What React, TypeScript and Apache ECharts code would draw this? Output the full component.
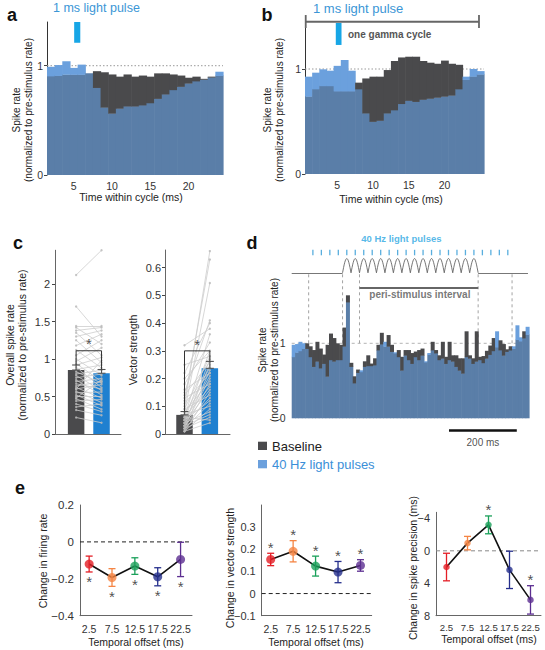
import React, { useEffect, useRef } from 'react';
import * as echarts from 'echarts';

const FONT = '"Liberation Sans", Arial, Helvetica, sans-serif';
const DARK = '#4a4a4c';
const LIGHT = '#6ba0dd';
const OVERLAP = '#5a7ea8';
const PULSE = '#17a6e6';
const TEXT_BLUE = '#3b96d6';
const CBLUE = '#1f80d0';

// ---------- panel a ----------
const aBinCenters = [2, 3, 4, 5, 6, 7, 8, 9, 10, 11, 12, 13, 14, 15, 16, 17, 18, 19, 20, 21, 22, 23, 24];
const aBaseline = [0.906, 0.91, 0.92, 0.92, 0.92, 0.93, 0.95, 0.94, 0.92, 0.9, 0.92, 0.9, 0.91, 0.9, 0.93, 0.93, 0.92, 0.91, 0.89, 0.9, 0.88, 0.9, 0.91];
const aLight = [0.99, 1.006, 1.04, 0.98, 1.01, 0.93, 0.8, 0.62, 0.565, 0.61, 0.63, 0.63, 0.64, 0.66, 0.7, 0.74, 0.78, 0.81, 0.84, 0.86, 0.875, 0.895, 0.945];
const aTicks = [5, 10, 15, 20];
const aPulseWindow = [5.05, 5.85];

// ---------- panel b ----------
const bBinCenters = [1, 2, 3, 4, 5, 6, 7, 8, 9, 10, 11, 12, 13, 14, 15, 16, 17, 18, 19, 20, 21, 22, 23, 24, 25];
const bBaseline = [0.74, 0.81, 0.84, 0.84, 0.79, 0.79, 0.79, 0.87, 0.91, 0.927, 0.927, 0.99, 1.076, 1.11, 1.117, 1.117, 1.076, 1.06, 1.05, 1.08, 1.05, 1.04, 0.9, 0.93, 0.95];
const bLight = [0.927, 0.965, 0.997, 0.984, 1.03, 1.086, 0.984, 0.81, 0.58, 0.5, 0.51, 0.58, 0.61, 0.67, 0.7, 0.69, 0.71, 0.72, 0.73, 0.74, 0.75, 0.81, 0.927, 1.0, 0.98];
const bTicks = [5, 10, 15, 20];
const bPulseWindow = [4.8, 5.6];
const bGammaCycle = [0.6, 24.8];

// ---------- panel c ----------
const cMeansRate = [0.853, 0.81];
const cErrRate = [0.067, 0.05];
const cMeansVS = [0.069, 0.237];
const cErrVS = [0.012, 0.025];
const cRateTicks = [0, 0.5, 1, 1.5, 2];
const cVSTicks = [0, 0.1, 0.2, 0.3, 0.4, 0.5, 0.6];
const cRatePairs = [
  [2.12, 2.45], [1.7, 1.3], [1.44, 1.44], [1.42, 1.2], [1.38, 1.42], [1.35, 1.05], [1.3, 1.38], [1.25, 0.95],
  [1.18, 1.33], [1.12, 0.88], [1.05, 1.25], [1.0, 0.78], [0.97, 1.15], [0.94, 0.7], [0.92, 1.02], [0.89, 0.62],
  [0.86, 0.92], [0.83, 0.68], [0.8, 0.85], [0.78, 0.58], [0.75, 0.8], [0.72, 0.52], [0.7, 0.74], [0.67, 0.6],
  [0.64, 0.7], [0.62, 0.48], [0.6, 0.66], [0.57, 0.42], [0.55, 0.56], [0.52, 0.38], [0.5, 0.5], [0.47, 0.33],
  [0.44, 0.46], [0.4, 0.3], [0.36, 0.4], [0.32, 0.25], [0.22, 0.15], [0.6, 0.98], [0.48, 0.72],
];
const cVSPairs = [
  [0.32, 0.38], [0.1, 0.66], [0.12, 0.63], [0.08, 0.545], [0.15, 0.41], [0.22, 0.4], [0.06, 0.36], [0.18, 0.33],
  [0.05, 0.3], [0.09, 0.28], [0.03, 0.27], [0.14, 0.26], [0.04, 0.25], [0.07, 0.24], [0.02, 0.23], [0.11, 0.22],
  [0.05, 0.21], [0.03, 0.2], [0.08, 0.19], [0.02, 0.18], [0.06, 0.17], [0.04, 0.16], [0.01, 0.15], [0.09, 0.14],
  [0.03, 0.13], [0.05, 0.12], [0.02, 0.11], [0.07, 0.1], [0.01, 0.09], [0.04, 0.08], [0.03, 0.07], [0.02, 0.06],
  [0.06, 0.05], [0.01, 0.04], [0.13, 0.18], [0.2, 0.3], [0.16, 0.22], [0.25, 0.28],
];

// ---------- panel d ----------
const dBinCenters = [
  5, 15, 25, 35, 45, 55, 65, 75, 85, 95, 105, 115, 125, 135, 145, 155, 165, 175, 185, 195,
  205, 215, 225, 235, 245, 255, 265, 275, 285, 295, 305, 315, 325, 335, 345, 355, 365, 375, 385, 395,
  405, 415, 425, 435, 445, 455, 465, 475, 485, 495, 505, 515, 525, 535, 545, 555, 565, 575, 585, 595,
  605, 615, 625, 635, 645, 655, 665, 675, 685, 695,
];
const dBaseline = [
  0.82, 0.88, 0.9, 0.93, 1.0, 0.96, 0.91, 1.02, 0.93, 0.85, 0.98, 1.13, 1.07, 1.0, 0.98, 1.21, 1.64, 0.74, 0.56, 0.65,
  0.62, 0.76, 0.84, 0.73, 0.8, 0.98, 1.14, 0.96, 1.11, 0.98, 0.87, 0.91, 0.82, 0.91, 0.91, 0.87, 0.89, 0.91, 0.93, 0.75,
  0.85, 1.02, 0.91, 0.84, 1.02, 0.82, 1.02, 0.84, 0.84, 0.8, 0.8, 1.16, 0.84, 0.8, 1.16, 0.82, 0.83, 0.9, 0.97, 1.07,
  0.95, 1.04, 0.99, 0.92, 0.96, 0.93, 1.05, 1.03, 1.16, 1.12,
];
const dLight = [
  0.98, 0.99, 1.02, 1.0, 0.93, 0.82, 0.69, 0.76, 0.67, 0.73, 0.56, 0.78, 0.76, 0.78, 0.78, 0.96, 1.55, 0.69, 0.47, 0.61,
  0.64, 0.69, 0.7, 0.7, 0.71, 0.91, 0.99, 1.02, 0.96, 0.89, 0.88, 0.82, 0.64, 0.84, 0.78, 0.73, 0.82, 0.78, 0.84, 0.76,
  0.87, 0.91, 0.87, 0.78, 0.8, 0.73, 0.78, 0.76, 0.69, 0.64, 0.6, 0.82, 0.8, 0.73, 0.76, 0.78, 0.74, 0.8, 0.85, 0.9,
  1.16, 0.91, 0.84, 0.89, 0.91, 0.96, 1.24, 1.08, 1.07, 1.22,
];
const dPulseTimes = [
  62.5, 87.5, 112.5, 137.5, 162.5, 187.5, 212.5, 237.5, 262.5, 287.5, 312.5, 337.5,
  362.5, 387.5, 412.5, 437.5, 462.5, 487.5, 512.5, 537.5, 562.5, 587.5, 612.5, 637.5,
];
const dStimCycleStarts = [150, 175, 200, 225, 250, 275, 300, 325, 350, 375, 400, 425, 450, 475, 500, 525];
const dStimWindow = [150, 550];
const dMarkerTimes = [50, 150, 200, 550, 650];
const dPeriStimulus = [200, 550];
const dScaleBar = [464, 664];

// ---------- panel e ----------
const eOffsets = [2.5, 7.5, 12.5, 17.5, 22.5];
const eColors = ['#e41e26', '#f58544', '#1aa05a', '#262f8c', '#5c2e91'];
const eRateMean = [-0.12, -0.193, -0.131, -0.189, -0.095];
const eRateErr = [0.043, 0.048, 0.045, 0.049, 0.093];
const eRateSig = [true, true, true, true, true];
const eVSMean = [0.154, 0.191, 0.124, 0.097, 0.127];
const eVSErr = [0.028, 0.048, 0.045, 0.048, 0.026];
const eVSSig = [true, true, true, true, true];
const ePrecMean = [2.0, -0.95, -3.2, 2.35, 6.05];
const ePrecErr = [1.7, 0.83, 1.1, 2.3, 1.75];
const ePrecSig = [false, false, true, false, true];

const minus = (v: number) => String(v).replace('-', '\u2212');

function hist(idx: number, centers: number[], base: number[], light: number[], binW: number) {
  return {
    type: 'custom', xAxisIndex: idx, yAxisIndex: idx, z: 2, silent: true,
    data: centers.map((c, i) => [c, base[i], light[i]]),
    renderItem: (_p: any, api: any) => {
      const c = api.value(0), b = api.value(1), l = api.value(2);
      const lo = Math.min(b, l), hi = Math.max(b, l);
      const pA = api.coord([c - binW / 2, 0]);
      const pB = api.coord([c + binW / 2, lo]);
      const pC = api.coord([c + binW / 2, hi]);
      const w = pB[0] - pA[0] + 0.6;
      const h2 = pB[1] - pC[1];
      return {
        type: 'group', children: [
          { type: 'rect', shape: { x: pA[0], y: pB[1], width: w, height: pA[1] - pB[1] }, style: { fill: OVERLAP } },
          { type: 'rect', shape: { x: pA[0], y: pC[1], width: w, height: h2 > 0 ? h2 + 0.4 : 0 }, style: { fill: b > l ? DARK : LIGHT } },
        ],
      };
    },
  };
}

function errSeries(idx: number, items: any[], cap: number, width: number, z = 4) {
  return {
    type: 'custom', xAxisIndex: idx, yAxisIndex: idx, z, silent: true, clip: false,
    data: items,
    renderItem: (_p: any, api: any) => {
      const x = api.value(0);
      const a = api.coord([x, api.value(1)]);
      const b = api.coord([x, api.value(2)]);
      const color = api.visual('color');
      const st = { stroke: color, lineWidth: width };
      return {
        type: 'group', children: [
          { type: 'line', shape: { x1: a[0], y1: a[1], x2: b[0], y2: b[1] }, style: st },
          { type: 'line', shape: { x1: a[0] - cap, y1: a[1], x2: a[0] + cap, y2: a[1] }, style: st },
          { type: 'line', shape: { x1: b[0] - cap, y1: b[1], x2: b[0] + cap, y2: b[1] }, style: st },
        ],
      };
    },
  };
}

function textSeries(idx: number, pos: number[], text: string, opts: any = {}) {
  return {
    type: 'scatter', xAxisIndex: idx, yAxisIndex: idx, silent: true, z: 6,
    symbolSize: 1, itemStyle: { color: 'rgba(0,0,0,0)' },
    data: [pos],
    label: {
      show: true, formatter: text, position: opts.position || 'inside', distance: opts.distance ?? 0,
      offset: opts.offset || [0, 0],
      color: opts.color || '#222', fontSize: opts.size || 10.5, fontWeight: opts.weight || 'normal', fontFamily: FONT,
    },
  };
}

function starSeries(idx: number, xs: number[], ys: number[], sig: boolean[], position: string, distance: number) {
  return {
    type: 'scatter', xAxisIndex: idx, yAxisIndex: idx, silent: true, z: 6,
    symbolSize: 1, itemStyle: { color: 'rgba(0,0,0,0)' },
    data: xs.map((x, i) => [x, ys[i]]).filter((_d, i) => sig[i]),
    label: { show: true, formatter: '*', position, distance, color: '#222', fontSize: 15, fontFamily: FONT },
  };
}

function lineSeg(idx: number, pts: number[][], color: string, width: number, type: any = 'solid', z = 3) {
  return {
    type: 'line', xAxisIndex: idx, yAxisIndex: idx, data: pts, showSymbol: false, symbol: 'none', silent: true, z,
    lineStyle: { color, width, type }, animation: false,
  };
}

function eSeries(idx: number, xmin: number, xmax: number, means: number[], errs: number[], sig: boolean[],
  starBelow: boolean, dot: number, zeroColor: string, inverse = false) {
  const starY = eOffsets.map((_x, i) => {
    if (inverse) return means[i] - errs[i];
    return starBelow ? means[i] - errs[i] : means[i] + errs[i];
  });
  return [
    lineSeg(idx, [[xmin, 0], [xmax, 0]], zeroColor, 1, [4, 3], 1),
    lineSeg(idx, eOffsets.map((x, i) => [x, means[i]]), '#111', 1.6, 'solid', 3),
    errSeries(idx, eOffsets.map((x, i) => ({ value: [x, means[i] - errs[i], means[i] + errs[i]], itemStyle: { color: eColors[i] } })), 3.5, 1.3),
    {
      type: 'scatter', xAxisIndex: idx, yAxisIndex: idx, silent: true, z: 5, symbolSize: dot,
      data: eOffsets.map((x, i) => ({ value: [x, means[i]], itemStyle: { color: eColors[i] } })),
    },
    starSeries(idx, eOffsets, starY, sig, starBelow ? 'bottom' : 'top', starBelow ? 2 : -2),
  ];
}

function cSeries(idx: number, means: number[], errs: number[], pairs: number[][], xs: number[], bracketY: number, starY: number) {
  return [
    {
      type: 'bar', xAxisIndex: idx, yAxisIndex: idx, barWidth: 16.5, silent: true, z: 2,
      data: [
        { value: [xs[0], means[0]], itemStyle: { color: DARK } },
        { value: [xs[1], means[1]], itemStyle: { color: CBLUE } },
      ],
    },
    {
      type: 'lines', coordinateSystem: 'cartesian2d', xAxisIndex: idx, yAxisIndex: idx, silent: true, z: 3,
      data: pairs.map(([b, l]) => ({ coords: [[xs[0], b], [xs[1], l]] })),
      lineStyle: { color: '#cdcdcd', width: 0.8, opacity: 1 },
    },
    {
      type: 'scatter', xAxisIndex: idx, yAxisIndex: idx, silent: true, z: 3, symbolSize: 2.4,
      itemStyle: { color: '#b8b8b8' },
      data: pairs.flatMap(([b, l]) => [[xs[0], b], [xs[1], l]]),
    },
    errSeries(idx, [0, 1].map((i) => ({ value: [xs[i], means[i], means[i] + errs[i]], itemStyle: { color: '#555' } })), 4, 1.1),
    lineSeg(idx, [[xs[0], means[0] + errs[0]], [xs[0], bracketY], [xs[1], bracketY], [xs[1], means[1] + errs[1]]], '#333', 1, 'solid', 5),
    textSeries(idx, [(xs[0] + xs[1]) / 2, starY], '*', { size: 15, offset: [0, 3] }),
  ];
}

function buildOption(): any {
  const grids = [
    { left: 47, top: 22, width: 176, height: 153 },
    { left: 305, top: 21.75, width: 179, height: 152.25 },
    { left: 55, top: 250.25, width: 66, height: 183.75 },
    { left: 165, top: 250, width: 65, height: 184 },
    { left: 291.7, top: 230.8, width: 237.3, height: 213.75 },
    { left: 80, top: 505, width: 112, height: 110.7 },
    { left: 261.7, top: 505, width: 110, height: 110.7 },
    { left: 436, top: 512.3, width: 105, height: 103.4 },
  ].map((g) => ({ ...g, containLabel: false, outerBoundsMode: 'none', show: false }));

  const lab = (vals: number[] | null, extra: any = {}) => vals
    ? { show: true, customValues: vals, fontSize: 10.5, color: '#333', fontFamily: FONT, formatter: (v: number) => minus(v), ...extra }
    : { show: false };
  const tick = (vals: number[] | null, len = 3) => vals ? { show: true, customValues: vals, length: len, lineStyle: { color: '#444' } } : { show: false };
  const axLine = (show: boolean, color = '#444') => ({ show, onZero: false, lineStyle: { color, width: 1 } });

  const xAxis = [
    { gridIndex: 0, type: 'value', min: 1.5, max: 24.5, axisLine: axLine(false), axisTick: tick(null), axisLabel: lab(aTicks, { margin: 5 }), splitLine: { show: false } },
    { gridIndex: 1, type: 'value', min: 0.5, max: 25.5, axisLine: axLine(false), axisTick: tick(null), axisLabel: lab(bTicks, { margin: 5 }), splitLine: { show: false } },
    { gridIndex: 2, type: 'value', min: 0, max: 1, axisLine: axLine(true, '#666'), axisTick: tick(null), axisLabel: lab(null), splitLine: { show: false } },
    { gridIndex: 3, type: 'value', min: 0, max: 1, axisLine: axLine(true, '#666'), axisTick: tick(null), axisLabel: lab(null), splitLine: { show: false } },
    { gridIndex: 4, type: 'value', min: 0, max: 700, axisLine: axLine(false), axisTick: tick(null), axisLabel: lab(null), splitLine: { show: false } },
    { gridIndex: 5, type: 'value', min: 0.5, max: 25, axisLine: axLine(true, '#666'), axisTick: tick(null), axisLabel: lab(eOffsets, { margin: 8 }), splitLine: { show: false } },
    { gridIndex: 6, type: 'value', min: 0.5, max: 25, axisLine: axLine(true, '#666'), axisTick: tick(null), axisLabel: lab(eOffsets, { margin: 8 }), splitLine: { show: false } },
    { gridIndex: 7, type: 'value', min: 0, max: 25, axisLine: axLine(true, '#666'), axisTick: tick(null), axisLabel: lab(eOffsets, { margin: 7, fontSize: 9.6 }), splitLine: { show: false } },
  ];
  const yAxis = [
    { gridIndex: 0, type: 'value', min: 0, max: 1.4, axisLine: axLine(true, '#333'), axisTick: tick([0, 1]), axisLabel: lab([0, 1], { margin: 4 }), splitLine: { show: false } },
    { gridIndex: 1, type: 'value', min: 0, max: 1.45, axisLine: axLine(true, '#333'), axisTick: tick([0, 1]), axisLabel: lab([0, 1], { margin: 4 }), splitLine: { show: false } },
    { gridIndex: 2, type: 'value', min: 0, max: 2.45, axisLine: axLine(true, '#666'), axisTick: tick(cRateTicks), axisLabel: lab(cRateTicks, { fontSize: 11, margin: 5 }), splitLine: { show: false } },
    { gridIndex: 3, type: 'value', min: 0, max: 0.664, axisLine: axLine(true, '#666'), axisTick: tick(cVSTicks), axisLabel: lab(cVSTicks, { fontSize: 11, margin: 4 }), splitLine: { show: false } },
    { gridIndex: 4, type: 'value', min: -0.35, max: 2.5, axisLine: axLine(false), axisTick: tick(null), axisLabel: lab([0, 1], { margin: 6 }), splitLine: { show: false } },
    { gridIndex: 5, type: 'value', min: -0.4, max: 0.2, axisLine: axLine(true, '#666'), axisTick: tick(null), axisLabel: lab([-0.4, -0.2, 0, 0.2], { fontSize: 11.5, margin: 6 }), splitLine: { show: false } },
    { gridIndex: 6, type: 'value', min: -0.1, max: 0.4, axisLine: axLine(true, '#666'), axisTick: tick(null), axisLabel: lab([-0.1, 0, 0.1, 0.2, 0.3], { fontSize: 11, margin: 6 }), splitLine: { show: false } },
    { gridIndex: 7, type: 'value', min: -4.75, max: 8, inverse: true, axisLine: axLine(true, '#666'), axisTick: tick(null), axisLabel: lab([-4, 0, 4, 8], { fontSize: 11, margin: 6 }), splitLine: { show: false } },
  ];

  const series: any[] = [];
  // a
  series.push(lineSeg(0, [[1.5, 1], [24.5, 1]], '#999', 1, [1.5, 2], 1));
  series.push(hist(0, aBinCenters, aBaseline, aLight, 1));
  series.push({
    type: 'custom', xAxisIndex: 0, yAxisIndex: 0, z: 5, silent: true, clip: false,
    data: [[aPulseWindow[0], aPulseWindow[1], 1.21, 1.4]],
    renderItem: (_p: any, api: any) => {
      const p1 = api.coord([api.value(0), api.value(3)]);
      const p2 = api.coord([api.value(1), api.value(2)]);
      return { type: 'rect', shape: { x: p1[0], y: p1[1], width: p2[0] - p1[0], height: p2[1] - p1[1] }, style: { fill: PULSE } };
    },
  });
  // b
  series.push(lineSeg(1, [[0.5, 1], [25.5, 1]], '#999', 1, [1.5, 2], 1));
  series.push(hist(1, bBinCenters, bBaseline, bLight, 1));
  series.push({
    type: 'custom', xAxisIndex: 1, yAxisIndex: 1, z: 5, silent: true, clip: false,
    data: [[bPulseWindow[0], bPulseWindow[1], 1.229, 1.438]],
    renderItem: (_p: any, api: any) => {
      const p1 = api.coord([api.value(0), api.value(3)]);
      const p2 = api.coord([api.value(1), api.value(2)]);
      return { type: 'rect', shape: { x: p1[0], y: p1[1], width: p2[0] - p1[0], height: p2[1] - p1[1] }, style: { fill: PULSE } };
    },
  });
  series.push({
    type: 'custom', xAxisIndex: 1, yAxisIndex: 1, z: 5, silent: true, clip: false,
    data: [[bGammaCycle[0], bGammaCycle[1]]],
    renderItem: (_p: any, api: any) => {
      const l = api.coord([api.value(0), 1.45]);
      const r = api.coord([api.value(1), 1.45]);
      const top = api.coord([0, 1.514])[1];
      const bot = api.coord([0, 1.39])[1];
      const st = { stroke: '#666', lineWidth: 1.8 };
      return {
        type: 'group', children: [
          { type: 'line', shape: { x1: l[0], y1: l[1], x2: r[0], y2: r[1] }, style: st },
          { type: 'line', shape: { x1: l[0], y1: top, x2: l[0], y2: bot }, style: st },
          { type: 'line', shape: { x1: r[0], y1: top, x2: r[0], y2: bot }, style: st },
        ],
      };
    },
  });
  // c
  series.push(...cSeries(2, cMeansRate, cErrRate, cRatePairs, [0.32, 0.705], 1.11, 1.25));
  series.push(...cSeries(3, cMeansVS, cErrVS, cVSPairs, [0.3, 0.69], 0.3, 0.335));
  // d
  series.push(lineSeg(4, [[0, 1], [700, 1]], '#aaa', 0.9, [3, 3], 1));
  series.push({
    type: 'custom', xAxisIndex: 4, yAxisIndex: 4, z: 1, silent: true, clip: false,
    data: dMarkerTimes.map((t) => [t]),
    renderItem: (_p: any, api: any) => {
      const a = api.coord([api.value(0), 1]);
      const b = api.coord([api.value(0), 1.94]);
      return { type: 'line', shape: { x1: a[0], y1: a[1], x2: b[0], y2: b[1] }, style: { stroke: '#999', lineWidth: 0.9, lineDash: [3, 3] } };
    },
  });
  series.push(hist(4, dBinCenters, dBaseline, dLight, 10));
  series.push({
    type: 'lines', coordinateSystem: 'cartesian2d', xAxisIndex: 4, yAxisIndex: 4, silent: true, z: 3,
    data: [{ coords: [[0, 1.94], [dStimWindow[0], 1.94]] }, { coords: [[dStimWindow[1], 1.94], [697, 1.94]] }],
    lineStyle: { color: '#777', width: 1, opacity: 1 },
  });
  series.push({
    type: 'custom', xAxisIndex: 4, yAxisIndex: 4, z: 3, silent: true, clip: false,
    data: dStimCycleStarts.map((t) => [t]),
    renderItem: (_p: any, api: any) => {
      const s = api.value(0);
      const pts: number[][] = [];
      for (let k = 0; k <= 16; k++) {
        pts.push(api.coord([s + (25 * k) / 16, 1.94 + 0.19 * Math.sin((Math.PI * k) / 16)]));
      }
      return { type: 'polyline', shape: { points: pts }, style: { stroke: '#666', lineWidth: 0.9, fill: 'none' } };
    },
  });
  series.push({
    type: 'scatter', xAxisIndex: 4, yAxisIndex: 4, silent: true, z: 4, symbol: 'rect', symbolSize: [1.3, 5.5],
    itemStyle: { color: '#2f9ad6' },
    data: dPulseTimes.map((t) => [t, 2.21]),
  });
  series.push(textSeries(4, [323.5, 2.4], '40 Hz light pulses', { color: '#2aa6e2', weight: 'bold', size: 9.5 }));
  series.push({
    type: 'lines', coordinateSystem: 'cartesian2d', xAxisIndex: 4, yAxisIndex: 4, silent: true, z: 3,
    data: [{ coords: [[dPeriStimulus[0], 1.74], [dPeriStimulus[1], 1.74]] }],
    lineStyle: { color: '#666', width: 2, opacity: 1 },
  });
  series.push(textSeries(4, [378, 1.645], 'peri-stimulus interval', { color: '#555', weight: 'bold', size: 10 }));
  series.push({
    type: 'lines', coordinateSystem: 'cartesian2d', xAxisIndex: 4, yAxisIndex: 4, silent: true, z: 3,
    data: [{ coords: [[dScaleBar[0], -0.165], [dScaleBar[1], -0.165]] }],
    lineStyle: { color: '#111', width: 2.5, opacity: 1 },
  });
  series.push(textSeries(4, [(dScaleBar[0] + dScaleBar[1]) / 2, -0.32], '200 ms', { size: 10 }));
  // e
  series.push(...eSeries(5, 0.5, 25, eRateMean, eRateErr, eRateSig, true, 9, '#222'));
  series.push(...eSeries(6, 0.5, 25, eVSMean, eVSErr, eVSSig, false, 9, '#222'));
  series.push(...eSeries(7, 0, 25, ePrecMean, ePrecErr, ePrecSig, false, 6.5, '#888', true));

  const t = (text: string, x: number, y: number, o: any = {}) => ({
    type: 'text', x, y, rotation: o.rot || 0, silent: true, z: 10,
    style: {
      text, fill: o.color || '#222',
      font: `${o.weight || 'normal'} ${o.size || 10.5}px ${FONT}`,
      textAlign: o.align || 'center', align: o.align || 'center',
      textVerticalAlign: 'middle', verticalAlign: 'middle',
      lineHeight: o.lh || undefined,
    },
  });
  const R = Math.PI / 2;
  const graphic = [
    t('a', 12, 15, { weight: 'bold', size: 18, color: '#111' }),
    t('b', 267, 15, { weight: 'bold', size: 18, color: '#111' }),
    t('c', 18, 243, { weight: 'bold', size: 18, color: '#111' }),
    t('d', 252, 243, { weight: 'bold', size: 18, color: '#111' }),
    t('e', 20, 488, { weight: 'bold', size: 18, color: '#111' }),
    t('1 ms light pulse', 53, 8, { align: 'left', size: 12.5, color: TEXT_BLUE }),
    t('1 ms light pulse', 313, 8.5, { align: 'left', size: 13, color: TEXT_BLUE }),
    t('one gamma cycle', 348, 34, { align: 'left', size: 10, weight: 'bold', color: '#555' }),
    t('Spike rate\n(normalized to pre-stimulus rate)', 22.5, 110, { rot: R, size: 10, lh: 12 }),
    t('Spike rate\n(normalized to pre-stimulus rate)', 273, 110, { rot: R, size: 10, lh: 12 }),
    t('Spike rate\n(normalized to pre-stimulus rate)', 268, 350, { rot: R, size: 10, lh: 12 }),
    t('Time within cycle (ms)', 131, 197, { size: 10.5 }),
    t('Time within cycle (ms)', 391, 199, { size: 10.5 }),
    t('Overall spike rate\n(normalized to pre-stimulus rate)', 16, 345, { rot: R, size: 10.5, lh: 12 }),
    t('Vector strength', 133, 350, { rot: R, size: 10.5 }),
    { type: 'rect', shape: { x: 258, y: 441.7, width: 9, height: 8.3 }, style: { fill: DARK }, silent: true },
    { type: 'rect', shape: { x: 258, y: 460, width: 9, height: 8.3 }, style: { fill: LIGHT }, silent: true },
    t('Baseline', 272, 446, { align: 'left', size: 13, color: '#222' }),
    t('40 Hz light pulses', 272, 464, { align: 'left', size: 13, color: '#3b8fd8' }),
    t('Change in firing rate', 43, 561, { rot: R, size: 10.5 }),
    t('Change in vector strength', 230, 568, { rot: R, size: 10.5 }),
    t('Change in spike precision (ms)', 413, 568, { rot: R, size: 10.5 }),
    t('Temporal offset (ms)', 136, 642, { size: 10.5 }),
    t('Temporal offset (ms)', 316, 642, { size: 10.5 }),
    t('Temporal offset (ms)', 489, 638.5, { size: 10.5 }),
  ];

  return {
    animation: false,
    backgroundColor: '#ffffff',
    textStyle: { fontFamily: FONT },
    grid: grids,
    xAxis,
    yAxis,
    series,
    graphic,
  };
}

export default function App() {
  const ref = useRef<HTMLDivElement>(null);
  useEffect(() => {
    if (!ref.current) return;
    const chart = echarts.init(ref.current, null, { renderer: 'svg' });
    chart.setOption(buildOption());
    return () => chart.dispose();
  }, []);
  return (
    <div
      ref={ref}
      style={{ position: 'absolute', left: 0, top: 0, width: 545, height: 650, background: '#fff' }}
    />
  );
}
